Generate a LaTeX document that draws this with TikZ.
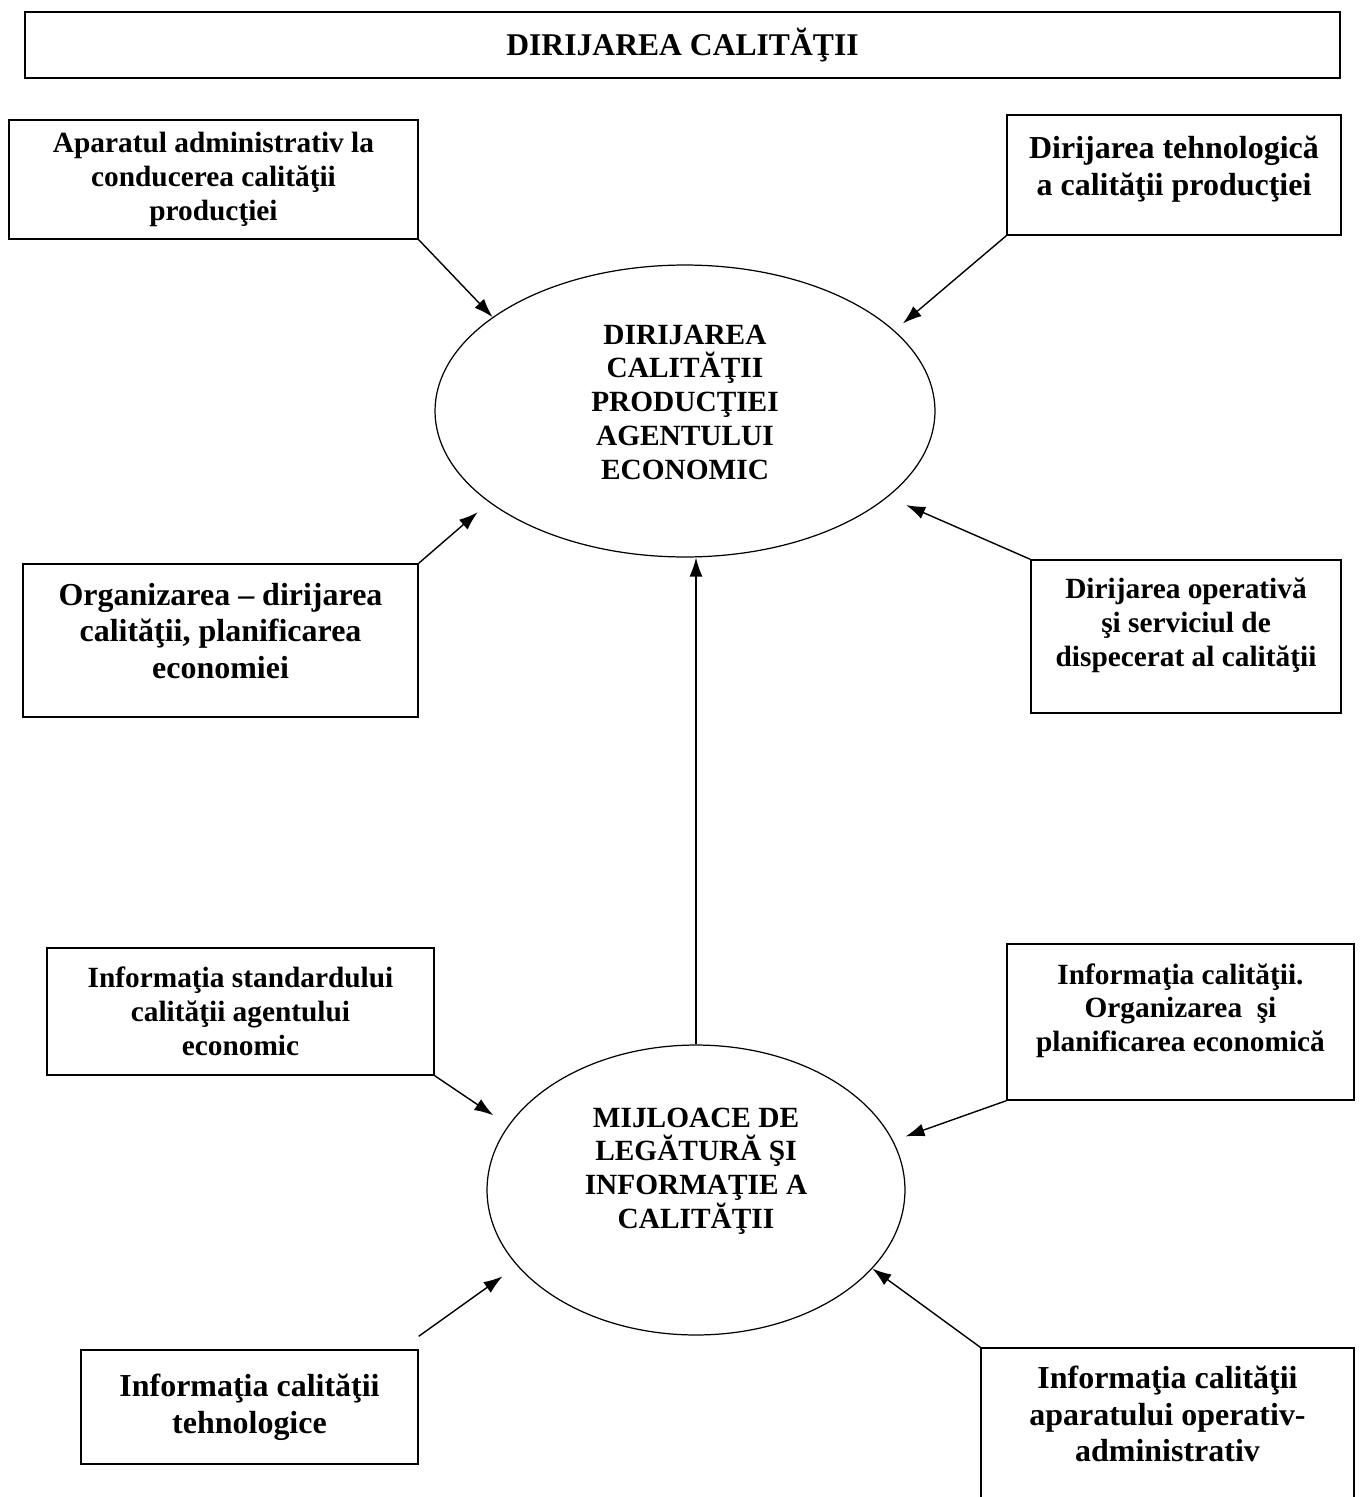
\documentclass[tikz,border=0pt]{standalone}
\usepackage{fontspec}
\setmainfont{Liberation Serif}
\usetikzlibrary{shapes.geometric}
\usetikzlibrary{arrows.meta}

\begin{document}
\begin{tikzpicture}[x = 0.02cm, y = -0.02cm,
        small/.style = {font = \bfseries\fontsize{16.7}{19.2}\selectfont},
        large/.style = {font = \bfseries\fontsize{18.2}{20.8}\selectfont},
        box/.style = {draw, line width = 0.8pt, align = center, inner sep = 2pt},
        oval/.style = {draw, ellipse, line width = 0.7pt, align = center, inner sep = 0pt, small},
        arrow/.style = {line width = 0.8pt, -{Latex[length = 0.38cm, width = 0.26cm]}}]

        \useasboundingbox (0,0) rectangle (1359,1497);

        % title
        \node[box, minimum width = 26.3cm, minimum height = 1.32cm,
              font = \bfseries\fontsize{18}{21}\selectfont] (title) at (682.5,45) {DIRIJAREA CALITĂŢII};

        % upper part
        \node[oval, minimum width = 10cm, minimum height = 5.84cm, text depth = 0.36cm] (prod) at (685,411)
              {DIRIJAREA\\CALITĂŢII\\PRODUCŢIEI\\AGENTULUI\\ECONOMIC};

        \node[box, small, minimum width = 8.18cm, minimum height = 2.38cm] (aparat) at (213.5,179.5)
              {Aparatul administrativ la\\conducerea calităţii\\producţiei};
        \node[box, large, minimum width = 6.68cm, minimum height = 2.4cm, text depth = 0.38cm] (tehn) at (1174,175)
              {Dirijarea tehnologică\\a calităţii producţiei};
        \node[box, large, minimum width = 7.9cm, minimum height = 3.06cm, text depth = 0.4cm] (organiz) at (220.5,640.5)
              {Organizarea – dirijarea\\calităţii, planificarea\\economiei};
        \node[box, small, minimum width = 6.2cm, minimum height = 3.06cm, text depth = 0.58cm] (operativ) at (1186,636.5)
              {Dirijarea operativă\\şi serviciul de\\dispecerat al calităţii};

        % lower part
        \node[oval, minimum width = 8.36cm, minimum height = 5.8cm, text depth = 0.88cm] (mijloace) at (696,1190)
              {MIJLOACE DE\\LEGĂTURĂ ŞI\\INFORMAŢIE A\\CALITĂŢII};

        \node[box, small, minimum width = 7.74cm, minimum height = 2.54cm] (standard) at (240.5,1011.5)
              {Informaţia standardului\\calităţii agentului\\economic};
        \node[box, small, minimum width = 6.94cm, minimum height = 3.12cm, text depth = 0.58cm] (planif) at (1180.5,1022)
              {Informaţia calităţii.\\Organizarea \ şi\\planificarea economică};
        \node[box, large, minimum width = 6.74cm, minimum height = 2.28cm] (tehnice) at (249.5,1407)
              {Informaţia calităţii\\tehnologice};
        \node[box, large, minimum width = 7.46cm, minimum height = 3.04cm, text depth = 0.4cm] (admin) at (1167.5,1424)
              {Informaţia calităţii\\aparatului operativ-\\administrativ};

        % arrows
        \draw[arrow] (aparat.south east) -- (prod.154);
        \draw[arrow, shorten >= 0.22cm] (tehn.south west) -- (prod.21);
        \draw[arrow, shorten >= 0.3cm] (organiz.north east) -- (prod.205);
        \draw[arrow, shorten >= 0.4cm] (operativ.north west) -- (prod.337);
        \draw[arrow] (mijloace.north) -- (mijloace.north |- prod.south);

        \draw[arrow, shorten >= 0.36cm] (standard.south east) -- (mijloace.161);
        \draw[arrow, shorten >= 0.26cm] (planif.south west) -- (mijloace.14);
        \draw[arrow, shorten >= 0.36cm] ([yshift = 0.26cm]tehnice.north east) -- (mijloace.203);
        \draw[arrow] (admin.north west) -- (mijloace.336);
    \end{tikzpicture}
\end{document}
